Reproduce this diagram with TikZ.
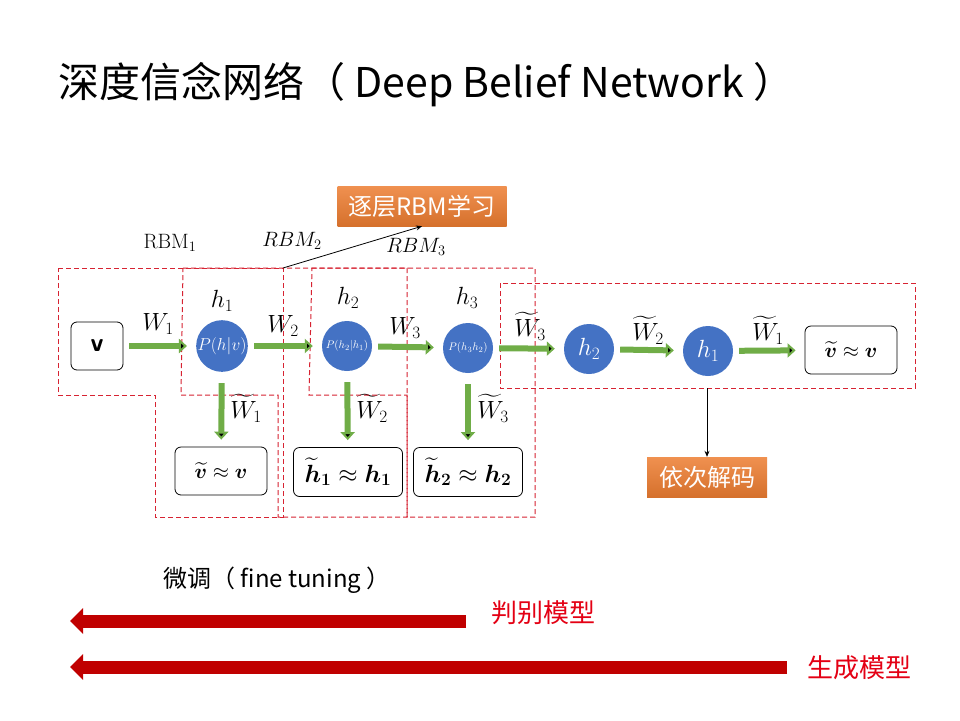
\documentclass[tikz,border=0pt]{standalone}
\usepackage{amsmath}
\usepackage{amssymb}
\usepackage{bm}
\usepackage[no-math]{fontspec}
\setmainfont{Noto Sans CJK SC}
\usetikzlibrary{arrows.meta}

\definecolor{nodeblue}{RGB}{68,114,196}
\definecolor{arrowgreen}{RGB}{112,173,71}
\definecolor{boxorange}{RGB}{237,125,49}
\definecolor{dashred}{RGB}{215,35,50}
\definecolor{darkred}{RGB}{192,0,0}
\definecolor{textred}{RGB}{228,0,20}

\begin{document}
\begin{tikzpicture}[x=1pt,y=-1pt,
    hid_node/.style={circle,fill=nodeblue,text=white,minimum size=50pt,inner sep=0pt},
    box_node/.style={draw,rounded corners=6pt,line width=0.8pt,fill=white,minimum height=48pt,inner sep=0pt},
    lbl_node/.style={inner sep=0pt,font=\fontsize{23}{27}\selectfont},
    orange_box/.style={top color=boxorange!85!white,bottom color=boxorange!90!black,text=white,minimum height=40pt,inner sep=0pt,font=\fontsize{24}{28}\selectfont},
    green_arrow/.style={draw=arrowgreen,line width=6pt,-{Triangle[length=8pt,width=14pt]}},
    red_arrow/.style={draw=darkred,line width=13pt,-{Triangle[length=13pt,width=25pt]}},
    thin_arrow/.style={draw,line width=0.8pt,-{Stealth[length=6pt,width=5pt]}},
    rbm_box/.style={draw=dashred,line width=1pt,dash pattern=on 5pt off 3pt}]

    \useasboundingbox[fill=white] (0,0) rectangle (960,720);

    \node[anchor=west,inner sep=0pt,font=\fontsize{41}{46}\selectfont] (title) at (58,85) {深度信念网络（ Deep Belief Network ）};

    % encoder row
    \node[box_node,minimum width=52pt,font=\fontsize{26}{30}\selectfont\sffamily\bfseries] (v) at (97,346) {v};
    \node[hid_node,font=\fontsize{16}{18}\selectfont] (h1) at (222,346) {$P(h|v)$};
    \node[hid_node,font=\fontsize{11}{13}\selectfont] (h2) at (347,346) {$P(h_2|h_1)$};
    \node[hid_node,font=\fontsize{11}{13}\selectfont] (h3) at (468,348) {$P(h_3h_2)$};

    % decoder row
    \node[hid_node,font=\fontsize{23}{27}\selectfont] (dh2) at (589,349) {$h_2$};
    \node[hid_node,font=\fontsize{23}{27}\selectfont] (dh1) at (708,351) {$h_1$};
    \node[box_node,minimum width=92pt,font=\fontsize{22}{26}\selectfont] (vout) at (851,350) {$\widetilde{\bm{v}}\approx\bm{v}$};

    % reconstructions
    \node[box_node,minimum width=92pt,font=\fontsize{22}{26}\selectfont] (r1) at (221,471) {$\widetilde{\bm{v}}\approx\bm{v}$};
    \node[box_node,minimum width=109pt,minimum height=49pt,font=\fontsize{23}{27}\selectfont] (r2) at (348,472) {$\widetilde{\bm{h}}_{\bm{1}}\approx\bm{h}_{\bm{1}}$};
    \node[box_node,minimum width=109pt,minimum height=49pt,font=\fontsize{23}{27}\selectfont] (r3) at (468,472) {$\widetilde{\bm{h}}_{\bm{2}}\approx\bm{h}_{\bm{2}}$};

    % labels
    \node[lbl_node,font=\fontsize{22}{26}\selectfont] (rbm1) at (170,243) {$\mathrm{RBM}_1$};
    \node[lbl_node,font=\fontsize{22}{26}\selectfont] (rbm2) at (292,241) {$RBM_2$};
    \node[lbl_node,font=\fontsize{22}{26}\selectfont] (rbm3) at (416,247) {$RBM_3$};
    \node[lbl_node] (lh1) at (222,301) {$h_1$};
    \node[lbl_node] (lh2) at (348,298) {$h_2$};
    \node[lbl_node] (lh3) at (467,298) {$h_3$};
    \node[lbl_node] (w1) at (158,324) {$W_1$};
    \node[lbl_node] (w2) at (283,326) {$W_2$};
    \node[lbl_node] (w3) at (405,328) {$W_3$};
    \node[lbl_node] (tw3) at (530,326) {$\widetilde{W}_3$};
    \node[lbl_node] (tw2) at (648,330) {$\widetilde{W}_2$};
    \node[lbl_node] (tw1) at (768,330) {$\widetilde{W}_1$};
    \node[lbl_node] (dw1) at (246,408) {$\widetilde{W}_1$};
    \node[lbl_node] (dw2) at (372,408) {$\widetilde{W}_2$};
    \node[lbl_node] (dw3) at (493,408) {$\widetilde{W}_3$};

    % RBM outlines
    \draw[rbm_box] (58,268) -- (283,268) -- (283,517) -- (155,517) -- (155,395) -- (58,395) -- cycle;
    \draw[rbm_box] (183,268) -- (407,268) -- (407,517) -- (278,517) -- (278,395) -- (181,395) -- cycle;
    \draw[rbm_box] (312,268) -- (535,268) -- (535,517) -- (407,517) -- (407,395) -- (309,395) -- cycle;
    \draw[rbm_box] (500,283) rectangle (915,388);

    \path[green_arrow,shorten <=6pt,shorten >=9pt]
    (v) edge (h1)
    (h1) edge (h2)
    (h2) edge (h3)
    (h3) edge (dh2)
    (dh2) edge (dh1)
    (dh1) edge (vout)
    ;
    \path[green_arrow,shorten <=11pt,shorten >=7pt]
    (h1) edge (r1)
    (h2) edge (r2)
    (h3) edge (r3)
    ;

    % remarks
    \node[orange_box,minimum width=169pt] (learn) at (422,206) {逐层RBM学习};
    \node[orange_box,minimum width=120pt] (decode) at (707,477) {依次解码};
    \coordinate (rbmtop) at (283,268);
    \coordinate (decbot) at (707,388);
    \draw[thin_arrow] (rbmtop) -- (learn.south);
    \draw[thin_arrow] (decbot) -- (decode.north);

    % fine tuning
    \node[inner sep=0pt,font=\fontsize{24}{28}\selectfont] (tune) at (277,580) {微调（ fine tuning ）};
    \node[inner sep=0pt,text=textred,font=\fontsize{26}{30}\selectfont] (disc) at (543,613) {判别模型};
    \node[inner sep=0pt,text=textred,font=\fontsize{26}{30}\selectfont] (gen) at (859,668) {生成模型};
    \coordinate (disc0) at (466,621);
    \coordinate (disc1) at (70,621);
    \coordinate (gen0) at (787,667);
    \coordinate (gen1) at (70,667);
    \draw[red_arrow] (disc0) -- (disc1);
    \draw[red_arrow] (gen0) -- (gen1);
\end{tikzpicture}
\end{document}
